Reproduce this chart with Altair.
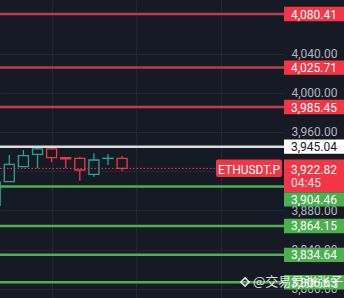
import altair as alt
import pandas as pd

# ---- data ----
idx = [-1, 0, 1, 2, 3, 4, 5, 6, 7, 8]
opens = [3885.5, 3909.3, 3924.6, 3937.2, 3942.7, 3933.8, 3933.1, 3916.8, 3933.0, 3933.1]
highs = [3909.5, 3936.5, 3941.6, 3945.0, 3943.2, 3934.2, 3934.8, 3938.3, 3937.2, 3935.4]
lows = [3885.0, 3909.3, 3924.6, 3923.0, 3929.1, 3923.0, 3910.3, 3914.4, 3926.3, 3920.2]
closes = [3909.0, 3927.0, 3935.8, 3942.7, 3933.8, 3932.6, 3921.2, 3931.4, 3933.2, 3922.82]

red_levels = [4080.41, 4025.71, 3985.45]
white_levels = [3945.04]
green_levels = [3904.46, 3864.15, 3834.64, 3806.63]
last_price = 3922.82
symbol = "ETHUSDT.P"
countdown = "04:45"
tick_values = [3800, 3840, 3880, 3920, 3960, 4000, 4040, 4080]
vgrid_values = [3, 9, 15]
watermark = "@交易员张张子"

# ---- layout / style ----
W, H = 284, 298
Y_DOM = [3790.6, 4094.7]
X_DOM = [-0.66, 19.48]
K = H / (Y_DOM[1] - Y_DOM[0])  # px per price unit
BG = "#161a25"
GRID = "#232733"
FONT = "Roboto"
HALF = 7.2  # label half-height in px
shift_px = {3904.46: 13.0}  # label pushed below last-price tag

candles = pd.DataFrame({"i": idx, "open": opens, "high": highs, "low": lows, "close": closes})
candles["dir"] = ["up" if c >= o else "down" for o, c in zip(opens, closes)]

xs = alt.Scale(domain=X_DOM, nice=False, zero=False, padding=0)
ys = alt.Scale(domain=Y_DOM, nice=False, zero=False, padding=0)
dir_color = alt.Color("dir:N", scale=alt.Scale(domain=["up", "down"], range=["#26a69a", "#f23645"]), legend=None)

base = alt.Chart(candles)

wicks = base.mark_rule(strokeWidth=1.3).encode(
    x=alt.X("i:Q", scale=xs, axis=alt.Axis(values=vgrid_values, grid=True, gridColor=GRID, labels=False,
                                              ticks=False, domain=False, title=None)),
    y=alt.Y("low:Q", scale=ys, axis=alt.Axis(orient="right", values=tick_values, format=",.2f", grid=True,
                                               gridColor=GRID, domain=False, ticks=False, labelPadding=7,
                                               labelColor="#b2b5be", labelFont=FONT, labelFontSize=12,
                                               title=None)),
    y2="high:Q",
    color=dir_color,
)
bodies = base.mark_bar(size=10, fill=BG, strokeWidth=1.3).encode(
    x=alt.X("i:Q", scale=xs), y=alt.Y("open:Q", scale=ys), y2="close:Q",
    stroke=alt.Stroke("dir:N", scale=alt.Scale(domain=["up", "down"], range=["#26a69a", "#f23645"]), legend=None),
)


def level_layers(levels, line_color, box_color, text_color, line_w=2.5):
    df = pd.DataFrame({"price": levels})
    df["label"] = [f"{v:,.2f}" for v in levels]
    df["c"] = [v - shift_px.get(v, 0.0) / K for v in levels]
    df["top"] = df["c"] + HALF / K
    df["bot"] = df["c"] - HALF / K
    ch = alt.Chart(df)
    line = ch.mark_rule(color=line_color, strokeWidth=line_w).encode(
        y=alt.Y("price:Q", scale=ys), x=alt.value(0), x2=alt.value(W))
    box = ch.mark_rect(color=box_color).encode(
        y=alt.Y("top:Q", scale=ys), y2="bot:Q", x=alt.value(W), x2=alt.value(344))
    txt = ch.mark_text(align="left", baseline="middle", font=FONT, fontSize=12, color=text_color, dy=0.5).encode(
        y=alt.Y("c:Q", scale=ys), x=alt.value(291), text="label:N")
    return [line, box, txt]


layers = []
layers += level_layers(red_levels, "#c23a47", "#f23645", "white")
layers += level_layers(white_levels, "#dcdcdc", "#ffffff", "#131722")
layers += level_layers(green_levels, "#4caf50", "#4caf50", "white")

lp = pd.DataFrame({"price": [last_price], "label": [f"{last_price:,.2f}"], "sym": [symbol], "cd": [countdown]})
lp["top"] = lp["price"] + 9 / K
lp["bot"] = lp["price"] - 23.5 / K
lp["symbot"] = lp["price"] - 8.5 / K
lp["c1"] = lp["price"] - 1.5 / K
lp["c2"] = lp["price"] - 15 / K
lpc = alt.Chart(lp)
dotted = lpc.mark_rule(color="#f23645", strokeWidth=1, strokeDash=[1.5, 2]).encode(
    y=alt.Y("price:Q", scale=ys), x=alt.value(0), x2=alt.value(216))
lp_box = lpc.mark_rect(color="#f23645").encode(
    y=alt.Y("top:Q", scale=ys), y2="bot:Q", x=alt.value(W), x2=alt.value(344))
sym_box = lpc.mark_rect(color="#f23645", cornerRadius=2).encode(
    y=alt.Y("top:Q", scale=ys), y2="symbot:Q", x=alt.value(216), x2=alt.value(282))
sym_txt = lpc.mark_text(align="center", baseline="middle", font=FONT, fontSize=12, color="white").encode(
    y=alt.Y("c1:Q", scale=ys), x=alt.value(249), text="sym:N")
lp_txt = lpc.mark_text(align="left", baseline="middle", font=FONT, fontSize=12, color="white").encode(
    y=alt.Y("c1:Q", scale=ys), x=alt.value(291), text="label:N")
cd_txt = lpc.mark_text(align="left", baseline="middle", font=FONT, fontSize=12, color="#ffe3e6").encode(
    y=alt.Y("c2:Q", scale=ys), x=alt.value(291), text="cd:N")

wm = pd.DataFrame({"t": [watermark]})
wm_icon = alt.Chart(wm).mark_point(shape="diamond", filled=False, color="white", size=70, strokeWidth=1.6,
                                   opacity=0.85).encode(x=alt.value(245), y=alt.value(282))
wm_txt = alt.Chart(wm).mark_text(align="left", baseline="middle", font="Noto Sans CJK SC", fontSize=13,
                                 color="white", opacity=0.85).encode(x=alt.value(253), y=alt.value(282), text="t:N")

chart = alt.layer(
    wicks, bodies, dotted, *layers, lp_box, sym_box, sym_txt, lp_txt, cd_txt, wm_icon, wm_txt
).properties(
    width=W, height=H, background=BG,
    autosize=alt.AutoSizeParams(type="none"),
    padding={"left": 0, "right": 60, "top": 0, "bottom": 0},
).configure_view(stroke=None)

chart.save("out.html", embed_options={"renderer": "svg", "actions": False})
